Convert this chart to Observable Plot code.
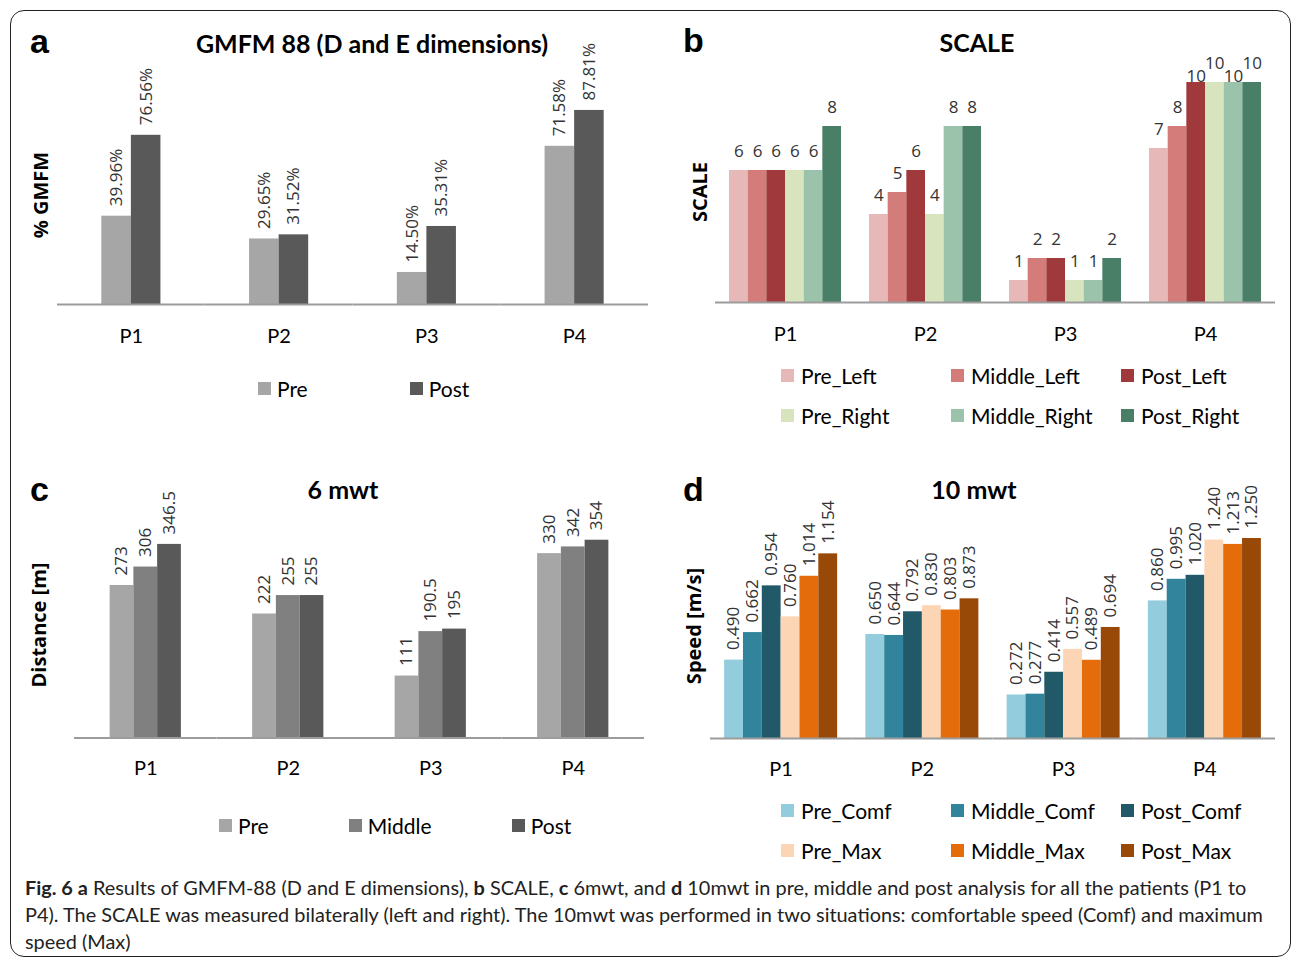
<!DOCTYPE html>
<html>
<head>
<meta charset="utf-8">
<script src="https://cdn.jsdelivr.net/npm/d3@7"></script>
<script src="https://cdn.jsdelivr.net/npm/@observablehq/plot@0.6"></script>
<style>
  html, body { margin: 0; padding: 0; background: #fff; }
  #root { position: relative; width: 1292px; height: 960px; overflow: hidden; background: #fff; font-family: Lato, sans-serif; color: #000; }
  .box { position: absolute; left: 10px; top: 10px; width: 1281px; height: 947px; border: 1.5px solid #222; border-radius: 14px; box-sizing: border-box; }
  .abs { position: absolute; white-space: nowrap; }
  .letter { font-family: "Liberation Sans", Arial, sans-serif; font-weight: bold; font-size: 34px; line-height: 1; }
  .title { font-family: Lato, sans-serif; font-weight: bold; font-size: 25px; transform: translateX(-50%); line-height: 1; }
  .ylab { font-family: "Open Sans", sans-serif; font-weight: bold; font-size: 20px; transform: translate(-50%, -50%) rotate(-90deg); line-height: 1; }
  .legend { display: flex; align-items: center; font-family: Lato, sans-serif; font-size: 21px; line-height: 1; }
  .legend .item { display: flex; align-items: center; }
  .legend .sw { width: 13px; height: 13px; margin-right: 6px; }
  .grid { display: grid; grid-template-columns: 170px 170px 170px; row-gap: 17px; font-family: Lato, sans-serif; font-size: 21px; line-height: 23px; }
  .grid .item { display: flex; align-items: center; }
  .grid .sw { width: 13px; height: 13px; margin-right: 7px; }
  .caption { left: 25px; top: 874px; font-family: Lato, sans-serif; font-size: 19.9px; line-height: 27px; color: #222; letter-spacing: 0; }
  .panel { position: absolute; }
</style>
</head>
<body>
<div id="root">
  <div class="box"></div>
</div>
<script>
// ---------- DATA ----------
const patients = ["P1", "P2", "P3", "P4"];

// a: GMFM 88 (D and E dimensions), % GMFM
const gmfmSeries = ["Pre", "Post"];
const gmfmPre  = [39.96, 29.65, 14.50, 71.58];
const gmfmPost = [76.56, 31.52, 35.31, 87.81];

// b: SCALE
const scaleSeries = ["Pre_Left", "Middle_Left", "Post_Left", "Pre_Right", "Middle_Right", "Post_Right"];
const scalePreLeft     = [6, 4, 1, 7];
const scaleMiddleLeft  = [6, 5, 2, 8];
const scalePostLeft    = [6, 6, 2, 10];
const scalePreRight    = [6, 4, 1, 10];
const scaleMiddleRight = [6, 8, 1, 10];
const scalePostRight   = [8, 8, 2, 10];

// c: 6 mwt, distance [m]
const mwt6Series = ["Pre", "Middle", "Post"];
const mwt6Pre    = [273, 222, 111, 330];
const mwt6Middle = [306, 255, 190.5, 342];
const mwt6Post   = [346.5, 255, 195, 354];

// d: 10 mwt, speed [m/s]
const mwt10Series = ["Pre_Comf", "Middle_Comf", "Post_Comf", "Pre_Max", "Middle_Max", "Post_Max"];
const mwt10PreComf    = [0.490, 0.650, 0.272, 0.860];
const mwt10MiddleComf = [0.662, 0.644, 0.277, 0.995];
const mwt10PostComf   = [0.954, 0.792, 0.414, 1.020];
const mwt10PreMax     = [0.760, 0.830, 0.557, 1.240];
const mwt10MiddleMax  = [1.014, 0.803, 0.489, 1.213];
const mwt10PostMax    = [1.154, 0.873, 0.694, 1.250];

// colours
const gmfmColors  = ["#a6a6a6", "#595959"];
const scaleColors = ["#e6b9b8", "#d37c7a", "#a0393b", "#d7e4bd", "#9bc2aa", "#4a7f67"];
const mwt6Colors  = ["#a6a6a6", "#808080", "#595959"];
const mwt10Colors = ["#93cddd", "#31849b", "#215968", "#fcd5b5", "#e46c0a", "#984807"];

// ---------- HELPERS ----------
function longTable(series, arrays) {
  const rows = [];
  patients.forEach((p, i) => series.forEach((s, j) => rows.push({patient: p, series: s, value: arrays[j][i]})));
  return rows;
}

const root = document.getElementById("root");
function addDiv(cls, html, css) {
  const d = document.createElement("div");
  d.className = cls;
  d.innerHTML = html;
  Object.assign(d.style, css);
  root.appendChild(d);
  return d;
}

function makePanel(cfg) {
  const data = longTable(cfg.series, cfg.arrays);
  const frameH = cfg.yMax * cfg.pxPerUnit;
  const height = cfg.marginTop + frameH + cfg.marginBottom;
  const textMarks = cfg.labelMarks(data);
  const chart = Plot.plot({
    width: cfg.width,
    height,
    marginTop: cfg.marginTop,
    marginBottom: cfg.marginBottom,
    marginLeft: cfg.marginLeft,
    marginRight: cfg.marginRight,
    style: {background: "transparent", overflow: "visible", maxWidth: "none", fontFamily: "Lato, sans-serif", fontSize: "20px", color: "#000"},
    fx: {domain: patients, padding: 0, round: false, axis: "bottom", tickSize: 0, tickPadding: cfg.tickPadding, label: null},
    x: {domain: cfg.series, paddingInner: 0, paddingOuter: cfg.paddingOuter, round: false, axis: null},
    y: {domain: [0, cfg.yMax], axis: null},
    color: {domain: cfg.series, range: cfg.colors},
    marks: [
      Plot.barY(data, {fx: "patient", x: "series", y: "value", fill: "series"}),
      Plot.ruleY([0], {stroke: "#9c9c9c", strokeWidth: 2}),
      ...textMarks
    ]
  });
  const wrap = document.createElement("div");
  wrap.className = "panel";
  Object.assign(wrap.style, {left: cfg.left + "px", top: cfg.top + "px", width: cfg.width + "px", height: height + "px"});
  wrap.appendChild(chart);
  root.appendChild(wrap);
}

function rotatedLabels(fmt) {
  return (data) => [Plot.text(data, {
    fx: "patient", x: "series", y: "value", text: (d) => fmt(d.value),
    rotate: -90, textAnchor: "start", dy: -10,
    fontFamily: "Open Sans, sans-serif", fontSize: 17, fill: "#333"
  })];
}

function legendRow(series, colors, css, gap) {
  const html = series.map((s, i) => `<div class="item"><div class="sw" style="background:${colors[i]}"></div><span>${s}</span></div>`).join("");
  const d = addDiv("abs legend", html, css);
  d.style.gap = gap + "px";
}
function legendGrid(series, colors, css) {
  const html = series.map((s, i) => `<div class="item"><div class="sw" style="background:${colors[i]}"></div><span>${s}</span></div>`).join("");
  addDiv("abs grid", html, css);
}

// ---------- PANEL A ----------
makePanel({
  series: gmfmSeries, arrays: [gmfmPre, gmfmPost], colors: gmfmColors,
  left: 0, top: 30, width: 660, marginLeft: 57, marginRight: 12, marginTop: 53, marginBottom: 50,
  yMax: 100, pxPerUnit: 2.21, paddingOuter: 1.5, tickPadding: 24,
  labelMarks: rotatedLabels((v) => v.toFixed(2) + "%")
});
addDiv("abs letter", "a", {left: "30px", top: "24px"});
addDiv("abs title", "GMFM 88 (D and E dimensions)", {left: "372px", top: "31px"});
addDiv("abs ylab", "% GMFM", {left: "41px", top: "195px"});
legendRow(gmfmSeries, gmfmColors, {left: "258px", top: "378px"}, 102);

// ---------- PANEL B ----------
makePanel({
  series: scaleSeries,
  arrays: [scalePreLeft, scaleMiddleLeft, scalePostLeft, scalePreRight, scaleMiddleRight, scalePostRight],
  colors: scaleColors,
  left: 660, top: 20, width: 632, marginLeft: 55, marginRight: 17, marginTop: 18, marginBottom: 50,
  yMax: 12, pxPerUnit: 22, paddingOuter: 0.75, tickPadding: 24,
  labelMarks: (data) => {
    // Labels that collide at the top of P4 are staggered, as in the original
    const lowered = (d) => d.patient === "P4" && (d.series === "Post_Left" || d.series === "Middle_Right");
    const common = {fx: "patient", x: "series", y: "value", text: (d) => String(d.value),
      textAnchor: "middle", lineAnchor: "bottom", fontFamily: "Open Sans, sans-serif", fontSize: 17, fill: "#333"};
    return [
      Plot.text(data.filter((d) => !lowered(d)), {...common, dy: -14}),
      Plot.text(data.filter(lowered), {...common, dy: -1})
    ];
  }
});
addDiv("abs letter", "b", {left: "683px", top: "23px"});
addDiv("abs title", "SCALE", {left: "977px", top: "30px"});
addDiv("abs ylab", "SCALE", {left: "700px", top: "192px"});
legendGrid(scaleSeries, scaleColors, {left: "781px", top: "364px"});

// ---------- PANEL C ----------
makePanel({
  series: mwt6Series, arrays: [mwt6Pre, mwt6Middle, mwt6Post], colors: mwt6Colors,
  left: 0, top: 470, width: 660, marginLeft: 74, marginRight: 16, marginTop: 44, marginBottom: 50,
  yMax: 400, pxPerUnit: 0.559, paddingOuter: 1.5, tickPadding: 23,
  labelMarks: rotatedLabels((v) => String(v))
});
addDiv("abs letter", "c", {left: "30px", top: "472px"});
addDiv("abs title", "6 mwt", {left: "343px", top: "477px"});
addDiv("abs ylab", "Distance [m]", {left: "39px", top: "625px"});
legendRow(mwt6Series, mwt6Colors, {left: "219px", top: "815px"}, 80);

// ---------- PANEL D ----------
makePanel({
  series: mwt10Series,
  arrays: [mwt10PreComf, mwt10MiddleComf, mwt10PostComf, mwt10PreMax, mwt10MiddleMax, mwt10PostMax],
  colors: mwt10Colors,
  left: 660, top: 470, width: 632, marginLeft: 50, marginRight: 17, marginTop: 44, marginBottom: 50,
  yMax: 1.4, pxPerUnit: 160, paddingOuter: 0.75, tickPadding: 23,
  labelMarks: rotatedLabels((v) => v.toFixed(3))
});
addDiv("abs letter", "d", {left: "683px", top: "472px"});
addDiv("abs title", "10 mwt", {left: "974px", top: "477px"});
addDiv("abs ylab", "Speed [m/s]", {left: "694px", top: "626px"});
legendGrid(mwt10Series, mwt10Colors, {left: "781px", top: "799px"});

// ---------- CAPTION ----------
addDiv("abs caption",
  "<b>Fig. 6 a</b> Results of GMFM-88 (D and E dimensions), <b>b</b> SCALE, <b>c</b> 6mwt, and <b>d</b> 10mwt in pre, middle and post analysis for all the patients (P1 to<br>" +
  "P4). The SCALE was measured bilaterally (left and right). The 10mwt was performed in two situations: comfortable speed (Comf) and maximum<br>" +
  "speed (Max)", {});
</script>
</body>
</html>
